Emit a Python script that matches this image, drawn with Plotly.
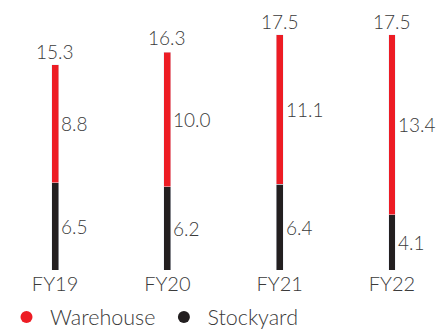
import plotly.graph_objects as go

categories = ["FY19", "FY20", "FY21", "FY22"]
stockyard = [6.5, 6.2, 6.4, 4.1]
warehouse = [8.8, 10.0, 11.1, 13.4]
totals = [15.3, 16.3, 17.5, 17.5]

RED = "#ED1C24"
BLACK = "#231F20"
TXT = "#3a3a3a"
FONT = "Lato"

fig = go.Figure()
fig.add_trace(go.Bar(x=categories, y=stockyard, name="Stockyard", marker_color=BLACK,
                     width=0.062, showlegend=False))
fig.add_trace(go.Bar(x=categories, y=warehouse, name="Warehouse", marker_color=RED,
                     width=0.062, showlegend=False))
# legend entries with round markers
fig.add_trace(go.Scatter(x=[None], y=[None], mode="markers", name="Warehouse",
                         marker=dict(color=RED, size=12, symbol="circle")))
fig.add_trace(go.Scatter(x=[None], y=[None], mode="markers", name="Stockyard",
                         marker=dict(color=BLACK, size=12, symbol="circle")))

numfont = dict(size=19, color=TXT, family=FONT, weight=300)
ann = []
for i, c in enumerate(categories):
    ann.append(dict(x=c, y=totals[i], text=f"{totals[i]:.1f}", showarrow=False,
                    yanchor="bottom", xanchor="center", yshift=0, font=numfont))
    ann.append(dict(x=c, y=stockyard[i] / 2, text=f"{stockyard[i]:.1f}", showarrow=False,
                    yanchor="middle", xanchor="left", xshift=4, font=numfont))
    ann.append(dict(x=c, y=stockyard[i] + warehouse[i] / 2, text=f"{warehouse[i]:.1f}",
                    showarrow=False, yanchor="middle", xanchor="left", xshift=4,
                    font=numfont))

fig.update_layout(
    width=443, height=330,
    barmode="stack",
    margin=dict(l=0, r=0, t=10, b=60),
    paper_bgcolor="white", plot_bgcolor="white",
    font=dict(family=FONT, size=19, color=TXT, weight=300),
    annotations=ann,
    showlegend=True,
    legend=dict(orientation="h", x=3 / 443, xanchor="left", xref="container",
                y=13 / 330, yanchor="middle", yref="container",
                traceorder="normal",
                font=dict(size=21.5, color=TXT, family=FONT, weight=300), itemwidth=37,
                tracegroupgap=0),
    xaxis=dict(range=[-0.49, 3.454], showgrid=False, zeroline=False, showline=False,
               ticks="", tickfont=dict(size=20, color=TXT, family=FONT, weight=300)),
    yaxis=dict(range=[0, 19.36], visible=False, showgrid=False, zeroline=False),
)

fig.write_html("out.html")
